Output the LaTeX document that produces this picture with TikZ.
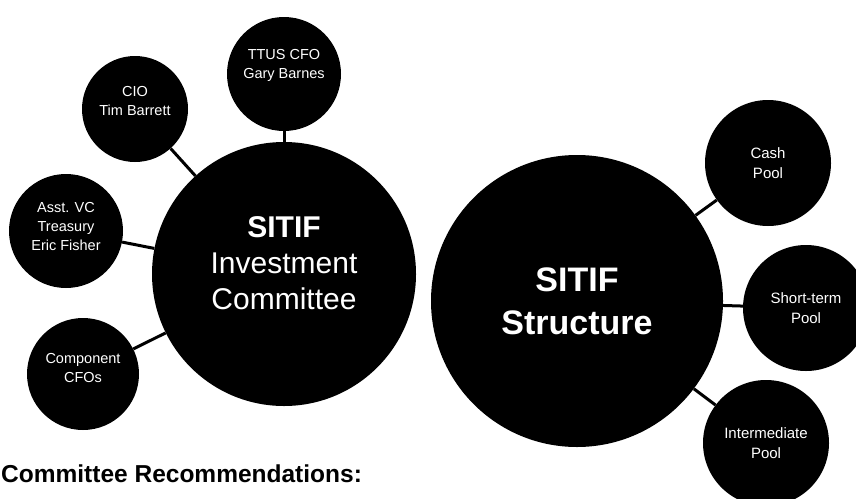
\documentclass[tikz,border=0pt]{standalone}
\usepackage{fontspec}
\setmainfont{Liberation Sans}
\usepackage{tikz}

\begin{document}
\begin{tikzpicture}[
  x=1pt, y=-1pt,
  hub/.style={circle, fill=black, text=white, inner sep=0pt, align=center},
  member/.style={circle, fill=black, text=white, inner sep=0pt, align=center, minimum size=114pt,
    font=\fontsize{14.5}{19}\selectfont},
  pool/.style={circle, fill=black, text=white, inner sep=0pt, align=center, minimum size=126pt,
    font=\fontsize{15}{20}\selectfont},
  link/.style={line width=3pt},
]
  \useasboundingbox (0,0) rectangle (856,498);
  \clip (0,0) rectangle (856,498);

  % committee side
  \node[hub, minimum size=264pt, text depth=22pt, font=\fontsize{30}{36}\selectfont] (committee) at (284,274) {
    \textbf{SITIF}\\Investment\\Committee
  };
  \node[member, text depth=20pt] (ttus) at (284,74) {TTUS CFO\\Gary Barnes};
  \node[member, minimum size=106pt, text depth=16pt] (cio) at (135,109) {CIO\\Tim Barrett};
  \node[member, text depth=10pt] (asst) at (66,231) {Asst. VC\\Treasury\\Eric Fisher};
  \node[member, minimum size=112pt, text depth=12pt] (comp) at (83,374) {Component\\CFOs};

  % structure side
  \node[hub, minimum size=292pt, font=\bfseries\fontsize{34}{43}\selectfont] (structure) at (577,301) {
    SITIF\\Structure
  };
  \node[pool] (cash) at (768,163) {Cash\\Pool};
  \node[pool] (short) at (806,308) {Short-term\\Pool};
  \node[pool] (inter) at (766,443) {Intermediate\\Pool};

  \node[anchor=base west, inner sep=0pt, font=\bfseries\fontsize{24.5}{29}\selectfont] (recs) at (1,482) {Committee Recommendations:};

  \draw[link] (committee) -- (ttus);
  \draw[link] (committee) -- (cio);
  \draw[link] (committee) -- (asst);
  \draw[link] (committee) -- (comp);
  \draw[link] (structure) -- (cash);
  \draw[link] (structure) -- (short);
  \draw[link] (structure) -- (inter);
\end{tikzpicture}
\end{document}
